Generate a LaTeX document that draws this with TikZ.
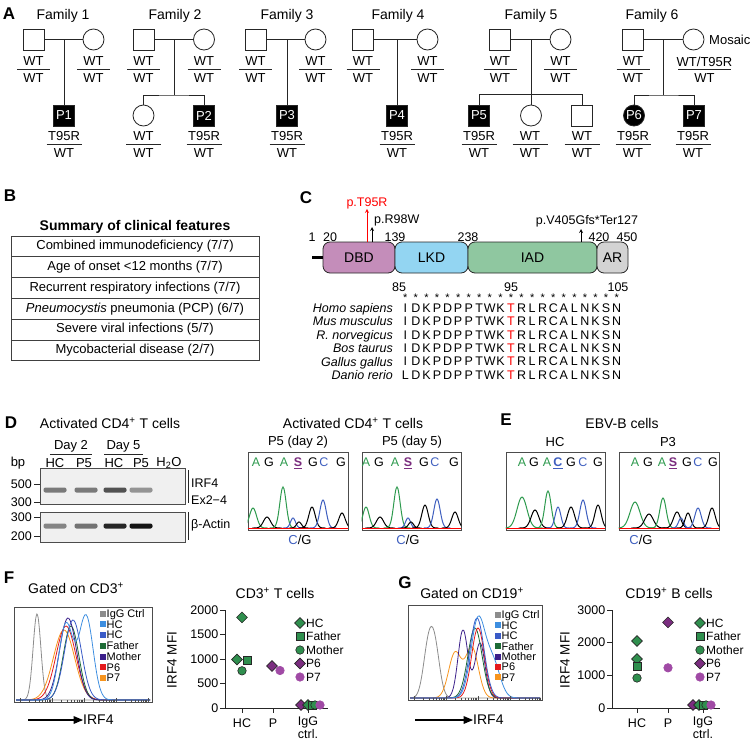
\documentclass[tikz,border=0pt]{standalone}
\usepackage{fontspec}
\setmainfont{Liberation Sans}
\usetikzlibrary{positioning, shapes.geometric, arrows}

\newcommand{\fsz}[1]{\fontsize{#1}{#1}\selectfont}
% genotype: name, x, line y, upper, lower, half width
\newcommand{\geno}[6]{%
  \draw[ped] (#2-#6,#3) -- (#2+#6,#3);
  \node[gtxt] (#1u) at (#2,#3-7.5) {#4};
  \node[gtxt] (#1l) at (#2,#3+9.5) {#5};}
% chromatogram peak: colour, centre, height, width
\newcommand{\pk}[4]{%
  \draw[#1, line width=1pt] plot[domain=#2-3*#4:#2+3*#4, samples=31, smooth]
    (\x,{528-#3*exp(-((\x-#2)/#4)*((\x-#2)/#4))});}
% flow histogram: colour, base, from, to, h1, c1, s, h2, c2
\newcommand{\hcurve}[9]{%
  \draw[#1, line width=0.8pt] plot[domain=#3:#4, samples=110, smooth]
    (\x,{#2-#5*exp(max(-9,-((\x-#6)/#7)*((\x-#6)/#7)))-#8*exp(max(-9,-((\x-#9)/#7)*((\x-#9)/#7)))});}

\definecolor{dbdc}{HTML}{C48DBA}
\definecolor{lkdc}{HTML}{93D5F2}
\definecolor{iadc}{HTML}{8FC7A0}
\definecolor{arcol}{HTML}{D3D3D3}
\definecolor{ntA}{HTML}{2E9A4E}
\definecolor{ntC}{HTML}{3F5FBF}
\definecolor{ntS}{HTML}{7A2C7E}
\definecolor{hcg}{HTML}{2F8F4E}
\definecolor{ptp}{HTML}{7B2D80}
\definecolor{ptm}{HTML}{A04AA5}
\definecolor{cIgG}{HTML}{8C8C8C}
\definecolor{cHCa}{HTML}{3D8EE0}
\definecolor{cHCb}{HTML}{3A5BC7}
\definecolor{cFa}{HTML}{1D6B35}
\definecolor{cMo}{HTML}{3B1F8A}
\definecolor{cP6}{HTML}{E41A1C}
\definecolor{cP7}{HTML}{F7941D}

\tikzset{
  ped/.style={line width=0.8pt, black!85},
  male/.style={draw=black!85, line width=0.8pt, rectangle, minimum size=21pt, inner sep=0pt, fill=white},
  female/.style={male, circle},
  aff/.style={fill=black, text=white, font=\fsz{13}},
  gtxt/.style={font=\fsz{13}, inner sep=0pt},
  famlab/.style={font=\fsz{14}, inner sep=0pt},
  panel/.style={font=\bfseries\fsz{17}, inner sep=0pt},
  lab/.style={font=\fsz{14}, inner sep=0pt},
  smlab/.style={font=\fsz{12.5}, inner sep=0pt},
  featrow/.style={draw=black!75, line width=0.8pt, minimum width=248pt, minimum height=20.8pt, inner sep=0pt, font=\fsz{13}},
  dom/.style={draw=black!85, line width=0.8pt, rounded corners=7pt, minimum height=31pt, inner sep=0pt, outer sep=0pt, font=\fsz{14}},
  spec/.style={font=\itshape\fsz{12.5}, anchor=east, inner sep=0pt, text depth=0pt},
  aa/.style={font=\fsz{12.5}, inner sep=0pt, text depth=0pt},
  gel/.style={draw=black!70, line width=0.8pt, fill=black!6, minimum width=145pt, inner sep=0pt},
  band/.style={rounded corners=2pt, minimum width=23pt, minimum height=5pt, inner sep=0pt},
  chrom/.style={draw=black!70, line width=0.7pt, minimum height=78pt, inner sep=0pt},
  nt/.style={font=\fsz{12.5}, inner sep=0pt, text depth=0pt},
  histbox/.style={draw=black!70, line width=0.7pt, inner sep=0pt},
  leg/.style={font=\fsz{11}, inner sep=0pt, anchor=west, text depth=0pt},
  legsq/.style={minimum size=6pt, inner sep=0pt},
  axln/.style={line width=0.9pt, black!85},
  ticklab/.style={font=\fsz{12.5}, inner sep=0pt},
  dmk/.style={diamond, draw=black!85, line width=0.6pt, inner sep=0pt, minimum size=11pt, fill=hcg},
  smk/.style={rectangle, draw=black!85, line width=0.6pt, inner sep=0pt, minimum size=8pt, fill=hcg},
  cmk/.style={circle, draw=black!85, line width=0.6pt, inner sep=0pt, minimum size=8.5pt, fill=hcg},
  pdmk/.style={dmk, fill=ptp},
  pcmk/.style={cmk, fill=ptm, draw=ptm},
}

\begin{document}
\begin{tikzpicture}[x=1pt, y=-1pt, >=stealth]
\useasboundingbox (0,0) rectangle (752,742);

% ---------- A: pedigrees
\node[panel] (A) at (9,14) {A};
\foreach \n/\lx in {1/63, 2/175, 3/287, 4/398, 5/531, 6/652}
  \node[famlab] (fam\n) at (\lx,16) {Family \n};
\foreach \n/\fx/\mx/\dx in {1/33.5/93.5/64, 2/143.5/204/174, 3/255.5/315.5/287, 4/363/427.5/397, 5/500/560.5/531, 6/633/693.5/663}{
  \node[male] (fa\n) at (\fx,39.5) {};
  \node[female] (mo\n) at (\mx,39.5) {};
  \coordinate (mid\n) at (\dx,39.5);
  \draw[ped] (fa\n) -- (mo\n);
  \geno{gfa\n}{\fx}{69}{WT}{WT}{16.5}
}
\foreach \n/\mx in {1/93.5, 2/204, 3/315.5, 4/427.5, 5/560.5}{
  \geno{gmo\n}{\mx}{69}{WT}{WT}{16.5}
}
\geno{gmo6}{704.5}{69}{WT/T95R}{WT}{26.5}
\node[gtxt, anchor=west] (mosaic) at (709,39.5) {Mosaic};

\node[male, aff] (P1) at (64,115.5) {P1};
\node[male, aff] (P3) at (287,115.5) {P3};
\node[male, aff] (P4) at (397,115.5) {P4};
\foreach \n in {1,3,4} \draw[ped] (mid\n) -- (P\n);
% family 2
\node[female] (s2) at (143.5,115.5) {};
\node[male, aff] (P2) at (204,115.5) {P2};
\coordinate (sib2) at (174,95);
\draw[ped] (mid2) -- (sib2);
\draw[ped] (s2.north) |- (sib2) -| (P2.north);
% family 5
\node[male, aff] (P5) at (479,115.5) {P5};
\node[female] (s5a) at (531,115.5) {};
\node[male] (s5b) at (582,115.5) {};
\draw[ped] (mid5) -- (s5a);
\draw[ped] (P5.north) -- ++(0,-10) -| (s5b.north);
% family 6
\node[female, aff] (P6) at (634,115.5) {P6};
\node[male, aff] (P7) at (694,115.5) {P7};
\coordinate (sib6) at (663,95);
\draw[ped] (mid6) -- (sib6);
\draw[ped] (P6.north) |- (sib6) -| (P7.north);

\foreach \cid/\x in {P1/64, P2/204, P3/287, P4/397, P5/479, P6/633, P7/693}{
  \geno{g\cid}{\x}{144}{T95R}{WT}{17.5}
}
\foreach \cid/\x in {s2/143.5, s5a/530, s5b/582}{
  \geno{g\cid}{\x}{144}{WT}{WT}{17.5}
}

% ---------- B: clinical features
\node[panel] (B) at (10,196) {B};
\node[font=\bfseries\fsz{14}, inner sep=0pt] (sumt) at (135,227) {Summary of clinical features};
\foreach \txt [count=\i] in {Combined immunodeficiency (7/7), Age of onset <12 months (7/7), Recurrent respiratory infections (7/7), {\textit{Pneumocystis} pneumonia (PCP) (6/7)}, Severe viral infections (5/7), Mycobacterial disease (2/7)}
  \node[featrow] (feat\i) at (135,{236+20.8*(\i-0.5)}) {\txt};

% ---------- C: protein and alignment
\node[panel] (C) at (306,198) {C};
\node[dom, fill=dbdc, minimum width=72pt] (dbd) at (359,257.5) {DBD};
\node[dom, fill=lkdc, minimum width=73pt, right=0pt of dbd] (lkd) {LKD};
\node[dom, fill=iadc, minimum width=129pt, right=0pt of lkd] (iad) {IAD};
\node[dom, fill=arcol, minimum width=31pt, right=0pt of iad] (ar) {AR};
\draw[line width=3.5pt] (dbd.west) -- ++(-11,0);
\foreach \pos/\x in {1/312, 20/330, 139/395, 238/468, 420/599, 450/627}
  \node[smlab] (pos\pos) at (\x,237) {\pos};

\node[smlab, text=red] (mT95R) at (367,203) {p.T95R};
\coordinate (aT95R) at (367,242);
\draw[->, red, line width=0.8pt] (aT95R) -- (mT95R.south);
\node[smlab, anchor=west] (mR98W) at (374,220) {p.R98W};
\coordinate (aR98W) at (372,242);
\coordinate (eR98W) at (372,227);
\draw[->, line width=0.8pt] (aR98W) -- (eR98W);
\node[smlab] (mV405) at (587,221) {p.V405Gfs*Ter127};
\coordinate (aV405) at (581,242);
\coordinate (eV405) at (581,229);
\draw[->, line width=0.8pt] (aV405) -- (eV405);

\foreach \lab/\x in {85/399, 95/511, 105/618}
  \node[smlab] (res\lab) at (\x,287) {\lab};
\foreach \i in {0,...,20}
  \node[font=\fsz{11}, inner sep=0pt] (st\i) at ({405.3+10.57*\i},297.5) {*};
\foreach \spname/\aaone [count=\r from 0] in {Homo sapiens/I, Mus musculus/I, R. norvegicus/I, Bos taurus/I, Gallus gallus/I, Danio rerio/L}{
  \node[spec] (sp\r) at (393,{308+13.4*\r}) {\spname};
  \foreach \res [count=\i from 0] in {\aaone,D,K,P,D,P,P,T,W,K,{\color{red}T},R,L,R,C,A,L,N,K,S,N}
    \node[aa] (aa\r-\i) at ({405.3+10.57*\i},{308+13.4*\r}) {\res};
}

% ---------- D: gel
\node[panel] (D) at (11,423) {D};
\node[lab] (dtitle) at (110,423) {Activated CD4\textsuperscript{+} T cells};
\node[gtxt] (day2) at (71,446) {Day 2};
\node[gtxt] (day5) at (123.5,446) {Day 5};
\draw[ped] ([xshift=-4pt, yshift=-2pt]day2.south west) -- ([xshift=4pt, yshift=-2pt]day2.south east);
\draw[ped] ([xshift=-2pt, yshift=-2pt]day5.south west) -- ([xshift=2pt, yshift=-2pt]day5.south east);
\foreach \ln/\x [count=\i] in {bp/18, HC/55, P5/84, HC/114, P5/141, H\textsubscript{2}O/169}
  \node[gtxt] (lane\i) at (\x,463) {\ln};
\node[gel, minimum height=36pt] (gtop) at (112.5,486) {};
\node[gel, minimum height=30pt] (gbot) at (112.5,527) {};
\foreach \x/\s [count=\i] in {55/52, 86/52, 115/68, 141/42}
  \node[band, fill=black!\s] (bt\i) at (\x,490) {};
\foreach \x/\s [count=\i] in {55/48, 86/55, 115/85, 141/92}
  \node[band, fill=black!\s] (bb\i) at (\x,526) {};
\foreach \val/\y [count=\i] in {500/484, 300/502, 300/517, 200/536}{
  \node[smlab, anchor=east] (bpl\i) at (32,\y) {\val};
  \draw[ped] (34,\y) -- (40,\y);
}
\node[smlab, anchor=west] (irf4) at (191,483) {IRF4};
\node[smlab, anchor=west] (ex24) at (191,500) {Ex2−4};
\node[smlab, anchor=west] (bact) at (191,525) {β-Actin};
\draw[ped] (188,470) -- (188,503);
\draw[ped] (188,512) -- (188,540);

% ---------- D/E: chromatograms
\node[lab] (dct) at (353,423) {Activated CD4\textsuperscript{+} T cells};
\node[gtxt] (h1) at (298,442) {P5 (day 2)};
\node[gtxt] (h2) at (412,442) {P5 (day 5)};
\node[panel] (E) at (506,420) {E};
\node[lab] (ebv) at (622,423) {EBV-B cells};
\node[gtxt] (h3) at (555,442) {HC};
\node[gtxt] (h4) at (668,442) {P3};
\node[chrom, minimum width=100pt] (cb1) at (298,491) {};
\node[chrom, minimum width=99pt] (cb2) at (411.5,491) {};
\node[chrom, minimum width=99pt] (cb3) at (555.5,491) {};
\node[chrom, minimum width=100pt] (cb4) at (669,491) {};

\foreach \col/\nb/\x in {ntA/A/256, black/G/269, ntA/A/284, ntS/{\underline{\textbf{S}}}/298, black/G/313, ntC/C/324, black/G/341,
                       ntA/A/366, black/G/379, ntA/A/395, ntS/{\underline{\textbf{S}}}/408, black/G/424, ntC/C/435, black/G/454,
                       ntA/A/522, black/G/534, ntA/A/547, ntC/{\underline{\textbf{C}}}/558, black/G/571, ntC/C/583, black/G/598,
                       ntA/A/635, black/G/648, ntA/A/662, ntS/{\underline{\textbf{S}}}/673, black/G/687, ntC/C/698, black/G/713}
  \node[nt, text=\col] (nt\x) at (\x,462) {\nb};

\begin{scope}
  \clip (cb1.south west) rectangle (cb1.north east);
  \pk{ntA}{253}{20}{5} \pk{black}{267}{11}{5} \pk{ntA}{283}{41}{4.5} \pk{ntC}{293}{10}{3.5}
  \pk{black}{299}{6}{3.5} \pk{black}{312}{21}{4.5} \pk{ntC}{323}{28}{4.5} \pk{black}{342}{15}{4.5}
  \draw[red, line width=1.2pt] ([yshift=2pt]cb1.south west) -- ([yshift=2pt]cb1.south east);
\end{scope}
\begin{scope}
  \clip (cb2.south west) rectangle (cb2.north east);
  \pk{ntA}{366}{21}{4.5} \pk{black}{380}{11}{5} \pk{ntA}{397}{41}{4.5} \pk{ntC}{408}{10}{3.5}
  \pk{black}{411}{6}{3.5} \pk{black}{425}{23}{4.5} \pk{ntC}{437}{29}{4.5} \pk{black}{455}{16}{4.5}
  \draw[red, line width=1.2pt] ([yshift=2pt]cb2.south west) -- ([yshift=2pt]cb2.south east);
\end{scope}
\begin{scope}
  \clip (cb3.south west) rectangle (cb3.north east);
  \pk{ntA}{522}{31}{7} \pk{black}{535}{18}{5.5} \pk{ntA}{548}{37}{4.5} \pk{ntC}{558}{21}{4}
  \pk{black}{571}{21}{5} \pk{ntC}{583}{28}{4.5} \pk{black}{598}{23}{4.5}
  \draw[red, line width=1.2pt] ([yshift=2pt]cb3.south west) -- ([yshift=2pt]cb3.south east);
\end{scope}
\begin{scope}
  \clip (cb4.south west) rectangle (cb4.north east);
  \pk{ntA}{635}{26}{7} \pk{black}{649}{14}{6} \pk{ntA}{663}{30}{4.5} \pk{black}{677}{16}{5}
  \pk{ntC}{681}{10}{3.5} \pk{black}{688}{15}{4} \pk{ntC}{698}{20}{4.5} \pk{black}{712}{20}{4.5}
  \draw[red, line width=1.2pt] ([yshift=2pt]cb4.south west) -- ([yshift=2pt]cb4.south east);
\end{scope}
\node[gtxt] (cg1) at (300,540) {\textcolor{ntC}{C}/G};
\node[gtxt] (cg2) at (408,540) {\textcolor{ntC}{C}/G};
\node[gtxt] (cg4) at (641,540) {\textcolor{ntC}{C}/G};

% ---------- F: CD3 histogram
\node[panel] (F) at (9,578) {F};
\node[lab] (fgate) at (76,588) {Gated on CD3\textsuperscript{+}};
\node[histbox, minimum width=138pt, minimum height=95pt] (fbox) at (83,654.5) {};
\hcurve{cIgG}{700}{16}{150}{86}{37}{5.5}{0}{0}
\hcurve{cP7}{700}{16}{150}{70}{64}{15}{0}{0}
\hcurve{cP6}{700}{16}{150}{74}{66}{14}{0}{0}
\hcurve{cFa}{700}{16}{150}{74}{71}{11}{0}{0}
\hcurve{cMo}{700}{16}{150}{82}{68}{12}{0}{0}
\hcurve{cHCb}{700}{16}{150}{80}{73}{12}{0}{0}
\hcurve{cHCa}{700}{16}{150}{76}{66}{10}{84}{86}
\foreach \dd in {0,...,3}
  \foreach \m in {2,...,9}
    \draw[black!70, line width=0.5pt] ({20+32*\dd+32*log10(\m)},702) -- ++(0,-2.5);
\foreach \dd in {0,...,4}
  \draw[black!70, line width=0.6pt] ({20+32*\dd},702) -- ++(0,-4.5);
\foreach \txt/\col [count=\i] in {IgG Ctrl/cIgG, HC/cHCa, HC/cHCb, Father/cFa, Mother/cMo, P6/cP6, P7/cP7}{
  \node[legsq, fill=\col] (fsq\i) at (103,{613.5+10.75*(\i-1)}) {};
  \node[leg] (fl\i) at (106.5,{613.5+10.75*(\i-1)}) {\txt};
}
\coordinate (fa0) at (28,720);
\node[lab, anchor=west] (firf) at (83,720) {IRF4};
\draw[-triangle 45, line width=1.2pt] (fa0) -- (firf.west);

% ---------- F: CD3 scatter
\node[lab] (ftitle) at (275,593) {CD3\textsuperscript{+} T cells};
\draw[axln] (225,610) -- (225,708) -- (328,708);
\foreach \val in {0,500,1000,1500,2000}{
  \draw[axln] (220,{708-0.049*\val}) -- (225,{708-0.049*\val});
  \node[ticklab, anchor=east] (fy\val) at (218.5,{708-0.049*\val}) {\val};
}
\foreach \x/\txt [count=\i] in {242/HC, 273/P}{
  \draw[axln] (\x,708) -- (\x,713);
  \node[ticklab] (fx\i) at (\x,723) {\txt};
}
\draw[axln] (308,708) -- (308,713);
\node[ticklab, align=center, font=\fontsize{12.5}{10}\selectfont] (fx3) at (308,728) {IgG\\ctrl.};
\node[font=\fsz{13.5}, inner sep=0pt, rotate=90] (fyl) at (172,660) {IRF4 MFI};
\node[dmk] (fhc1) at (242,617.4) {};
\node[dmk] (fhc2) at (237,659.5) {};
\node[smk] (ffa) at (247,660) {};
\node[cmk] (fmo) at (242,670.8) {};
\node[pdmk] (fp6) at (272,666) {};
\node[pcmk] (fp7) at (280,670.5) {};
\node[pdmk] (fi6) at (301,705) {};
\node[dmk] (fi1) at (308,705) {};
\node[smk] (fi2) at (312,705) {};
\node[cmk] (fi3) at (315,705) {};
\node[pcmk] (fi7) at (320,705) {};
\foreach \mk/\txt [count=\i] in {dmk/HC, smk/Father, cmk/Mother, pdmk/P6, pcmk/P7}{
  \node[\mk] (fm\i) at (300,{623+13.5*(\i-1)}) {};
  \node[leg, font=\fsz{12}] (fml\i) at (306,{623+13.5*(\i-1)}) {\txt};
}

% ---------- G: CD19 histogram
\node[panel] (G) at (405,583) {G};
\node[lab] (ggate) at (472,593) {Gated on CD19\textsuperscript{+}};
\node[histbox, minimum width=134pt, minimum height=95pt] (gbox) at (475,652.5) {};
\hcurve{cIgG}{698}{410}{540}{46}{428}{7}{46}{435}
\hcurve{cP7}{698}{410}{540}{45}{455}{9}{50}{472}
\hcurve{cMo}{698}{410}{540}{68}{463}{7}{55}{480}
\hcurve{cFa}{698}{410}{540}{70}{475}{10}{0}{0}
\hcurve{cP6}{698}{410}{540}{70}{478}{9}{0}{0}
\hcurve{cHCb}{698}{410}{540}{80}{477}{10}{0}{0}
\hcurve{cHCa}{698}{410}{540}{78}{478}{10}{35}{493}
\foreach \dd in {0,...,3}
  \foreach \m in {2,...,9}
    \draw[black!70, line width=0.5pt] ({414+32*\dd+32*log10(\m)},700) -- ++(0,-2.5);
\foreach \dd in {0,...,4}
  \draw[black!70, line width=0.6pt] ({414+32*\dd},700) -- ++(0,-4.5);
\foreach \txt/\col [count=\i] in {IgG Ctrl/cIgG, HC/cHCa, HC/cHCb, Father/cFa, Mother/cMo, P6/cP6, P7/cP7}{
  \node[legsq, fill=\col] (gsq\i) at (498,{615+10.4*(\i-1)}) {};
  \node[leg] (gl\i) at (501.5,{615+10.4*(\i-1)}) {\txt};
}
\coordinate (ga0) at (415,720);
\node[lab, anchor=west] (girf) at (473,720) {IRF4};
\draw[-triangle 45, line width=1.2pt] (ga0) -- (girf.west);

% ---------- G: CD19 scatter
\node[lab] (gtitle) at (669,593) {CD19\textsuperscript{+} B cells};
\draw[axln] (612,610) -- (612,708) -- (720,708);
\foreach \val in {0,1000,2000,3000}{
  \draw[axln] (607,{708-0.03267*\val}) -- (612,{708-0.03267*\val});
  \node[ticklab, anchor=east] (gy\val) at (605.5,{708-0.03267*\val}) {\val};
}
\foreach \x/\txt [count=\i] in {637/HC, 668/P}{
  \draw[axln] (\x,708) -- (\x,713);
  \node[ticklab] (gx\i) at (\x,723) {\txt};
}
\draw[axln] (703,708) -- (703,713);
\node[ticklab, align=center, font=\fontsize{12.5}{10}\selectfont] (gx3) at (703,728) {IgG\\ctrl.};
\node[font=\fsz{13.5}, inner sep=0pt, rotate=90] (gyl) at (565,660) {IRF4 MFI};
\node[dmk] (ghc1) at (637,641) {};
\node[dmk] (ghc2) at (637,659) {};
\node[smk] (gfa) at (637,666.5) {};
\node[cmk] (gmo) at (637,678) {};
\node[pdmk] (gp6) at (668,622.4) {};
\node[pcmk] (gp7) at (668,667.8) {};
\node[pdmk] (gi6) at (693,705) {};
\node[dmk] (gi1) at (699,705) {};
\node[smk] (gi2) at (703,705) {};
\node[cmk] (gi3) at (706,705) {};
\node[pcmk] (gi7) at (711,705) {};
\foreach \mk/\txt [count=\i] in {dmk/HC, smk/Father, cmk/Mother, pdmk/P6, pcmk/P7}{
  \node[\mk] (gm\i) at (700,{623+13.5*(\i-1)}) {};
  \node[leg, font=\fsz{12}] (gml\i) at (706,{623+13.5*(\i-1)}) {\txt};
}
\end{tikzpicture}
\end{document}
